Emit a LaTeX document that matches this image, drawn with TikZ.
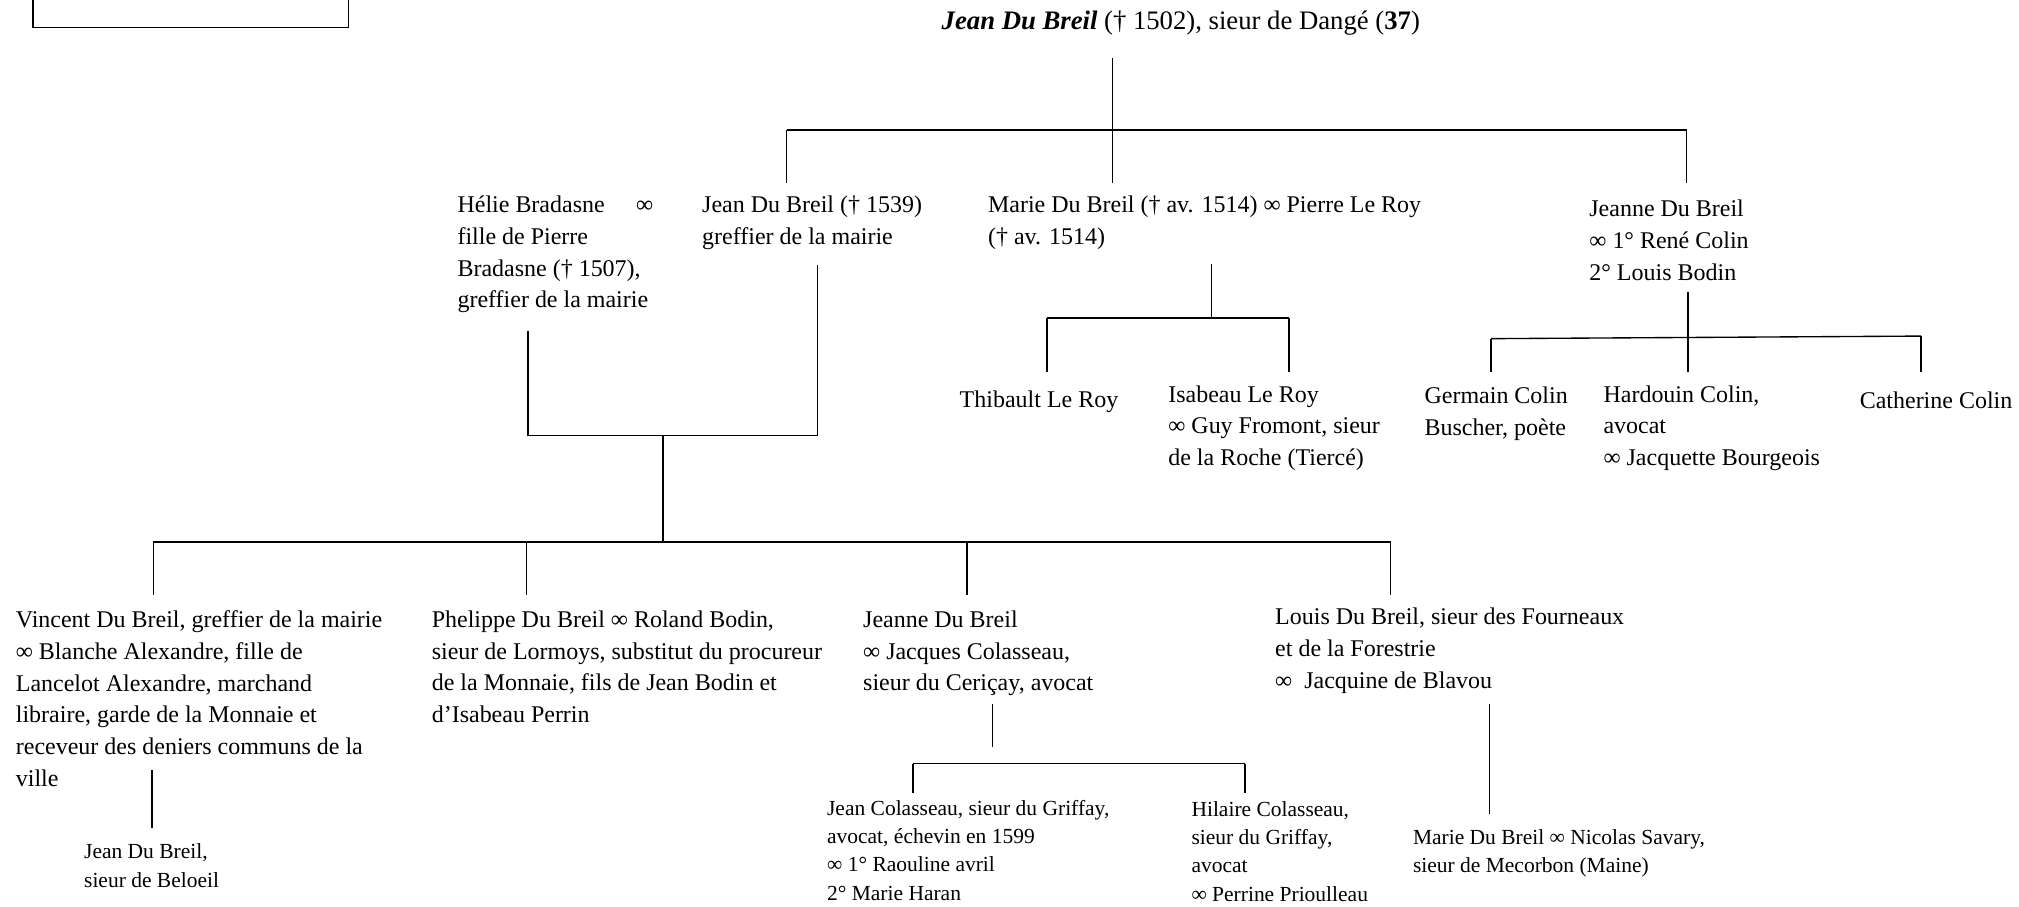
\documentclass[tikz,border=0pt]{standalone}
\usepackage{fontspec}
\setmainfont{Liberation Serif}
\usetikzlibrary{positioning, calc}
\newcommand{\rootfont}{\fontsize{11.8}{14}\selectfont}
\newcommand{\bigfont}{\fontsize{10.6}{14}\selectfont}
\newcommand{\smallfont}{\fontsize{9.5}{12.5}\selectfont}

\begin{document}
\begin{tikzpicture}[x=0.02cm, y=-0.02cm,
    person/.style={anchor=north west, align=left, inner sep=0pt, font=\bigfont, execute at begin node=\strut},
    personSmall/.style={person, font=\smallfont},
    link/.style={draw=black, line width=0.6pt},
    frameBox/.style={draw=black, line width=0.6pt, rectangle, inner sep=0pt, minimum width=4.9cm, minimum height=1cm, anchor=south west},
]
\useasboundingbox (0,0) rectangle (1568,704);
\node[frameBox] (topBox) at (25,22) {};
\node[person, font=\rootfont] (root) at (731,5) {\textbf{\textit{Jean Du Breil}} († 1502), sieur de Dangé (\textbf{37})};

\node[person] (helie) at (355,152) {\makebox[3.04cm][l]{Hélie Bradasne\hfill∞}\\fille de Pierre\\Bradasne († 1507),\\greffier de la mairie};
\node[person] (jeanGreffier) at (545,152) {Jean Du Breil († 1539)\\greffier de la mairie};
\node[person] (marieRoy) at (767,152) {Marie Du Breil († av. 1514) ∞ Pierre Le Roy\\(† av. 1514)};
\node[person] (jeanneColin) at (1234,155) {Jeanne Du Breil\\∞ 1° René Colin\\2° Louis Bodin};

\node[person] (thibault) at (745,299) {Thibault Le Roy};
\node[person] (isabeau) at (907,299) {Isabeau Le Roy\\∞ Guy Fromont, sieur\\de la Roche (Tiercé)};
\node[person] (germain) at (1106,300) {Germain Colin\\Buscher, poète};
\node[person] (hardouin) at (1245,299) {Hardouin Colin,\\avocat\\∞ Jacquette Bourgeois};
\node[person] (catherine) at (1444,300) {Catherine Colin};

\node[person] (vincent) at (12,474) {Vincent Du Breil, greffier de la mairie\\∞ Blanche Alexandre, fille de\\Lancelot Alexandre, marchand\\libraire, garde de la Monnaie et\\receveur des deniers communs de la\\ville};
\node[person] (phelippe) at (335,474) {Phelippe Du Breil ∞ Roland Bodin,\\sieur de Lormoys, substitut du procureur\\de la Monnaie, fils de Jean Bodin et\\d’Isabeau Perrin};
\node[person] (jeanneColas) at (670,474) {Jeanne Du Breil\\∞ Jacques Colasseau,\\sieur du Ceriçay, avocat};
\node[person] (louis) at (990,472) {Louis Du Breil, sieur des Fourneaux\\et de la Forestrie\\∞\ \ Jacquine de Blavou};

\node[personSmall] (beloeil) at (65,655) {Jean Du Breil,\\sieur de Beloeil};
\node[personSmall] (jeanColas) at (642,621) {Jean Colasseau, sieur du Griffay,\\avocat, échevin en 1599\\∞ 1° Raouline avril\\2° Marie Haran};
\node[personSmall] (hilaire) at (925,622) {Hilaire Colasseau,\\sieur du Griffay,\\avocat\\∞ Perrine Prioulleau};
\node[personSmall] (marieSavary) at (1097,644) {Marie Du Breil ∞ Nicolas Savary,\\sieur de Mecorbon (Maine)};

\coordinate (rootStub) at (864,45);
\coordinate (rootBarL) at (611,101);
\coordinate (rootBarR) at (1310,101);
\draw[link] (rootStub) -- ([yshift=0.2cm]marieRoy.north -| rootStub);
\draw[link] (rootBarL) -- (rootBarR);
\draw[link] (rootBarL) -- ([yshift=0.2cm]jeanGreffier.north -| rootBarL);
\draw[link] (rootBarR) -- ([yshift=0.26cm]jeanneColin.north -| rootBarR);

\coordinate (helieStub) at (410,257);
\coordinate (jeanStub) at (635,206);
\coordinate (coupleL) at (410,338);
\coordinate (coupleR) at (635,338);
\coordinate (coupleMid) at (515,338);
\coordinate (kidsBar) at (515,421);
\coordinate (kidsL) at (119,421);
\coordinate (kidsR) at (1080,421);
\draw[link] (helieStub) -- (coupleL) -- (coupleR) -- (jeanStub);
\draw[link] (coupleMid) -- (kidsBar);
\draw[link] (kidsL) -- (kidsR);
\draw[link] (kidsL) -- ([yshift=0.24cm]vincent.north -| kidsL);
\draw[link] (409,421) coordinate (phelippeJ) -- ([yshift=0.24cm]phelippe.north -| phelippeJ);
\draw[link] (751,421) coordinate (jeanneColasJ) -- ([yshift=0.24cm]jeanneColas.north -| jeanneColasJ);
\draw[link] (kidsR) -- ([yshift=0.2cm]louis.north -| kidsR);

\coordinate (marieStub) at (941,205);
\coordinate (royBarL) at (813,247);
\coordinate (royBarR) at (1001,247);
\draw[link] (marieStub) -- (royBarL -| marieStub);
\draw[link] (royBarL) -- (royBarR);
\draw[link] (royBarL) -- ([yshift=0.2cm]thibault.north -| royBarL);
\draw[link] (royBarR) -- ([yshift=0.2cm]isabeau.north -| royBarR);

\coordinate (jeanneStub) at (1311,227);
\coordinate (colinBarL) at (1158,263);
\coordinate (colinBarR) at (1492,261);
\draw[link] (jeanneStub) -- ([yshift=0.2cm]hardouin.north -| jeanneStub);
\draw[link] (colinBarL) -- (colinBarR);
\draw[link] (colinBarL) -- ([yshift=0.22cm]germain.north -| colinBarL);
\draw[link] (colinBarR) -- ([yshift=0.22cm]catherine.north -| colinBarR);

\coordinate (vincentStub) at (118,598);
\draw[link] (vincentStub) -- ([yshift=0.24cm]beloeil.north -| vincentStub);

\coordinate (colasStub) at (771,547);
\coordinate (colasStubEnd) at (771,580);
\coordinate (colasBarL) at (709,593);
\coordinate (colasBarR) at (967,593);
\draw[link] (colasStub) -- (colasStubEnd);
\draw[link] (colasBarL) -- (colasBarR);
\draw[link] (colasBarL) -- ([yshift=0.1cm]jeanColas.north -| colasBarL);
\draw[link] (colasBarR) -- ([yshift=0.12cm]hilaire.north -| colasBarR);

\coordinate (louisStub) at (1157,547);
\draw[link] (louisStub) -- ([yshift=0.24cm]marieSavary.north -| louisStub);
\end{tikzpicture}
\end{document}
